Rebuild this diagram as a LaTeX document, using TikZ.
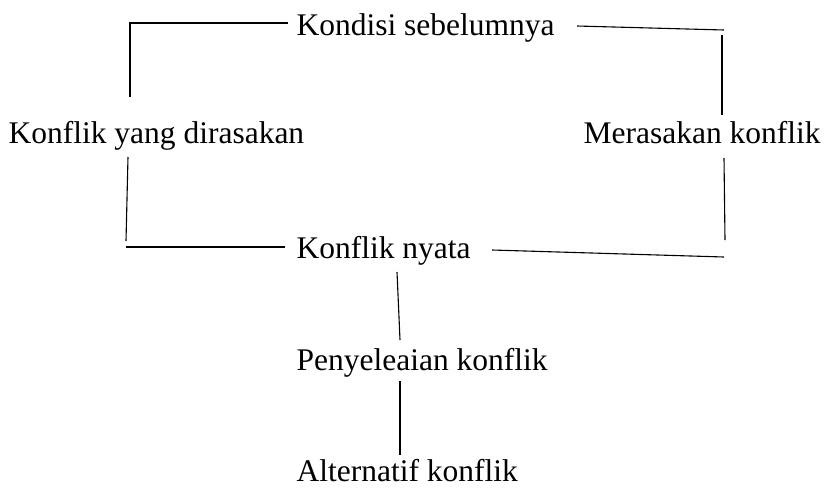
\documentclass[tikz,border=0pt]{standalone}
\usepackage{fontspec}
\setmainfont{Liberation Serif}
\tikzset{lbl/.style={anchor=base west,inner sep=0pt,font=\fontsize{31.5}{36}\selectfont}}

\begin{document}
\begin{tikzpicture}[x=1pt,y=-1pt,line width=1.1pt]
\useasboundingbox (0,0) rectangle (829,488);
\node[lbl] (kondisi) at (296,35) {Kondisi sebelumnya};
\node[lbl] (dirasa) at (8,143) {Konflik yang dirasakan};
\node[lbl] (merasa) at (583,143) {Merasakan konflik};
\node[lbl] (nyata) at (296,258) {Konflik nyata};
\node[lbl] (selesai) at (296,370) {Penyeleaian konflik};
\node[lbl] (alt) at (296,481) {Alternatif konflik};
% corner of the loop
\coordinate (tl) at (130,23);
% loose ends next to the texts
\coordinate (k-in) at (288,23);
\coordinate (k-out) at (577,26);
\coordinate (k-end) at (724,30);
\coordinate (d-up) at (130,97);
\coordinate (d-down) at (128,157);
\coordinate (d-end) at (126,241);
\coordinate (n-left) at (126,247);
\coordinate (n-in) at (285,247);
\coordinate (n-out) at (492,250);
\coordinate (n-right) at (724,257);
\coordinate (m-top) at (722,35);
\coordinate (m-up) at (722,115);
\coordinate (m-down) at (724,158);
\coordinate (m-end) at (725,240);
\coordinate (n-south) at (397,272);
\coordinate (s-north) at (400,340);
\coordinate (s-south) at (400,381);
\coordinate (a-north) at (400,455);
\draw (k-in) -- (tl) -- (d-up);
\draw (d-down) -- (d-end);
\draw (n-left) -- (n-in);
\draw (k-out) -- (k-end);
\draw (m-top) -- (m-up);
\draw (m-down) -- (m-end);
\draw (n-out) -- (n-right);
\draw (n-south) -- (s-north);
\draw (s-south) -- (a-north);
\end{tikzpicture}
\end{document}
